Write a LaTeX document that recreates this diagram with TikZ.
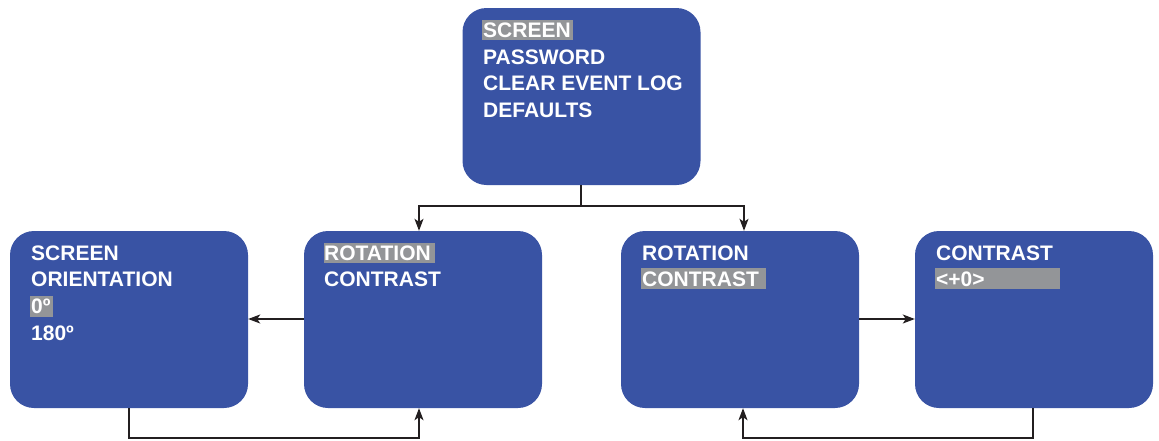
\documentclass[tikz,border=0pt]{standalone}
\usepackage{fontspec}
\setmainfont{Liberation Sans}
\usetikzlibrary{arrows.meta}
\definecolor{boxblue}{HTML}{3953A4}
\definecolor{hlgray}{HTML}{939598}
\definecolor{linegray}{HTML}{231F20}
\tikzset{
  menubox/.style={draw=none, fill=boxblue, rounded corners=24pt, minimum width=238pt, minimum height=177pt, inner sep=0pt},
  menutext/.style={anchor=base west, inner sep=0pt, text=white, font=\fontsize{21pt}{24pt}\selectfont\bfseries},
  hl/.style={fill=hlgray, draw=none},
  conn/.style={draw=linegray, line width=1.3pt},
  arr/.style={conn, -{Stealth[length=12pt,width=9pt,inset=3pt]}}
}
\begin{document}
\begin{tikzpicture}[x=1pt,y=-1pt]
\useasboundingbox (0,0) rectangle (1159,440);
% boxes
\node[menubox] (top) at (581.5,96.5) {};
\node[menubox] (b1) at (129,319.5) {};
\node[menubox] (b2) at (423,319.5) {};
\node[menubox] (b3) at (740,319.5) {};
\node[menubox] (b4) at (1034,319.5) {};
% highlights
\fill[hl] (482,20) rectangle (573,40);
\fill[hl] (30,296) rectangle (53,317);
\fill[hl] (324,243) rectangle (435,263);
\fill[hl] (641,268) rectangle (766,289);
\fill[hl] (935,268) rectangle (1060,289);
% texts top
\node[menutext] (t1) at (483,37.5) {SCREEN};
\node[menutext] (t2) at (483,64.2) {PASSWORD};
\node[menutext] (t3) at (483,90.9) {CLEAR EVENT LOG};
\node[menutext] (t4) at (483,117.6) {DEFAULTS};
% box 1
\node[menutext] (a1) at (31,260) {SCREEN};
\node[menutext] (a2) at (31,286.7) {ORIENTATION};
\node[menutext] (a3) at (31,313.4) {0º};
\node[menutext] (a4) at (31,340.1) {180º};
% box 2
\node[menutext] (c1) at (324,260) {ROTATION};
\node[menutext] (c2) at (324,286.7) {CONTRAST};
% box 3
\node[menutext] (d1) at (642,260) {ROTATION};
\node[menutext] (d2) at (642,286.7) {CONTRAST};
% box 4
\node[menutext] (e1) at (936,260) {CONTRAST};
\node[menutext] (e2) at (936,286.7) {<+0>};
% connectors
\coordinate (j) at (581,206);
\draw[conn] (top.south -| j) -- (j);
\draw[arr] (j) -| ([xshift=-4pt]b2.north);
\draw[arr] (j) -| ([xshift=4pt]b3.north);
\draw[arr] (b2.west |- 0,319) -- (b1.east |- 0,319);
\draw[arr] (b3.east |- 0,319) -- (b4.west |- 0,319);
\coordinate (bl) at (129,438);
\coordinate (br) at (1033,438);
\draw[arr] (b1.south -| bl) -- (bl) -| ([xshift=-4pt]b2.south);
\draw[arr] (b4.south -| br) -- (br) -| ([xshift=3pt]b3.south);
\end{tikzpicture}
\end{document}
